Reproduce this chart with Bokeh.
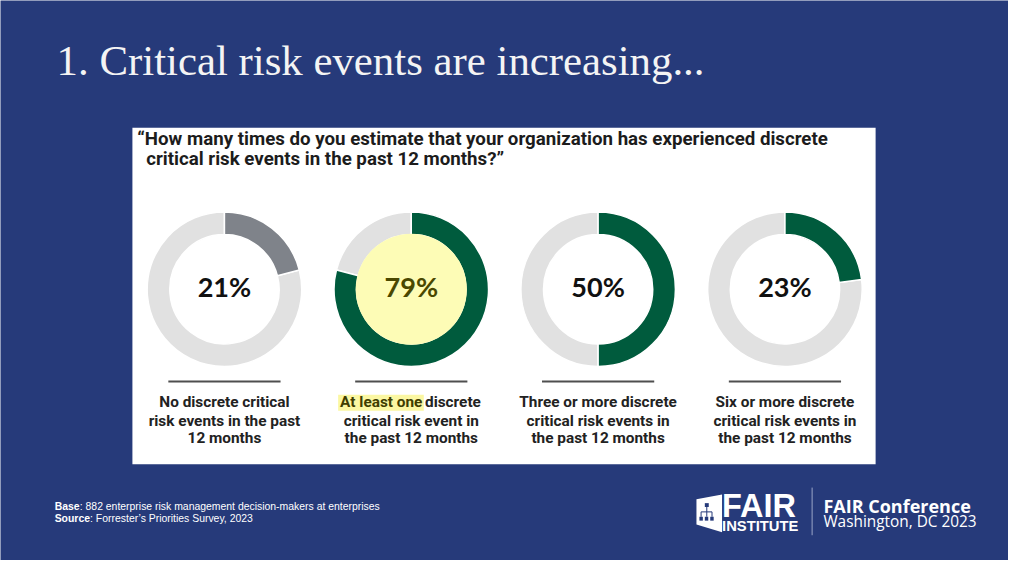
import math
from bokeh.plotting import figure
from bokeh.models import Range1d, ColumnDataSource
from bokeh.core.properties import value
from bokeh.embed import file_html
from bokeh.resources import INLINE

# ---------------- data ----------------
title_text = "1. Critical risk events are increasing..."
question_lines = [
    "\u201cHow many times do you estimate that your organization has experienced discrete",
    "critical risk events in the past 12 months?\u201d",
]
values = [21, 79, 50, 23]
segment_colors = ["#7f838a", "#005b3d", "#005b3d", "#005b3d"]
highlighted = [False, True, False, False]
captions = [
    ["No discrete critical", "risk events in the past", "12 months"],
    ["At least one discrete", "critical risk event in", "the past 12 months"],
    ["Three or more discrete", "critical risk events in", "the past 12 months"],
    ["Six or more discrete", "critical risk events in", "the past 12 months"],
]
highlight_phrase = "At least one"
footer_base = ("Base", ": 882 enterprise risk management decision-makers at enterprises")
footer_source = ("Source", ": Forrester\u2019s Priorities Survey, 2023")
logo_big = "FAIR"
logo_small = "INSTITUTE"
conf_lines = ["FAIR Conference", "Washington, DC 2023"]

# ---------------- layout helpers ----------------
W, H = 1008, 560
RW, RH = 1024, 576          # design coordinate space
S = W / RW                  # font scale
NAVY = "#263a7a"


def X(xr):
    return xr


def Y(yr):
    return RH - yr


def fs(px):
    return f"{px * S:.2f}px"


p = figure(width=W, height=H, x_range=Range1d(0, RW), y_range=Range1d(0, RH),
           output_backend="svg", toolbar_location=None, min_border=0)
p.axis.visible = False
p.grid.visible = False
p.outline_line_color = None
p.background_fill_color = NAVY
p.border_fill_color = NAVY

# title
p.text(x=[X(57)], y=[Y(62)], text=[title_text], text_font=value("Liberation Serif"),
       text_font_size=fs(43.5), text_color="#f4f4f4", text_align="left",
       text_baseline="middle")

# white panel
p.quad(left=[X(134)], right=[X(889)], bottom=[Y(477)], top=[Y(131)],
       fill_color="white", line_color=None)

# question
p.text(x=[X(139), X(148)], y=[Y(142), Y(163)], text=question_lines,
       text_font=value("Roboto"), text_font_size=fs(19), text_font_style="bold",
       text_color="#1c1c1c", text_align="left", text_baseline="middle")

# donuts
n = len(values)
cx = [X(227.5 + i * 189.8) for i in range(n)]
cy = [Y(297)] * n
R_OUT, R_IN = 78.5, 55.5
fracs = [v / 100.0 for v in values]
top = math.pi / 2
seg_start = [top - f * 2 * math.pi for f in fracs]
seg_end = [top] * n
rest_start = [top] * n
rest_end = [top - f * 2 * math.pi + 2 * math.pi for f in fracs]

src = ColumnDataSource(dict(x=cx, y=cy, s0=seg_start, s1=seg_end, r0=rest_start,
                            r1=rest_end, color=segment_colors))
p.annular_wedge(x="x", y="y", inner_radius=R_IN, outer_radius=R_OUT,
                start_angle="r0", end_angle="r1", direction="anticlock",
                fill_color="#e1e1e1", line_color="white", line_width=1.5, source=src)
p.annular_wedge(x="x", y="y", inner_radius=R_IN, outer_radius=R_OUT,
                start_angle="s0", end_angle="s1", direction="anticlock",
                fill_color="color", line_color="white", line_width=1.5, source=src)

hx = [cx[i] for i in range(n) if highlighted[i]]
hy = [cy[i] for i in range(n) if highlighted[i]]
p.circle(x=hx, y=hy, radius=R_IN + 1, fill_color="#fdfcb6", line_color=None)

pct_text = [f"{v}%" for v in values]
pct_color = ["#4a4800" if h else "#111111" for h in highlighted]
p.text(x=cx, y=[Y(294.5)] * n, text=pct_text, text_color=pct_color,
       text_font=value("Lato"), text_font_size=fs(27.5), text_font_style="bold",
       text_align="center", text_baseline="middle")

# underline rules
p.segment(x0=[c - 57 for c in cx], x1=[c + 57 for c in cx], y0=[Y(392)] * n,
          y1=[Y(392)] * n, line_color="#4f4f4f", line_width=2)

# captions
line_y = [Y(413), Y(432), Y(450.5)]
for i, lines in enumerate(captions):
    for j, line in enumerate(lines):
        if highlighted[i] and line.startswith(highlight_phrase):
            rest = line[len(highlight_phrase):].strip()
            p.quad(left=[X(343)], right=[X(430)], bottom=[Y(422)], top=[Y(405.5)],
                   fill_color="#fbf7a2", line_color=None)
            p.text(x=[X(345)], y=[line_y[j]], text=[highlight_phrase],
                   text_font=value("Roboto"), text_font_size=fs(15.6),
                   text_font_style="bold", text_color="#3f3d00",
                   text_align="left", text_baseline="middle")
            p.text(x=[X(488)], y=[line_y[j]], text=[rest],
                   text_font=value("Roboto"), text_font_size=fs(15.6),
                   text_font_style="bold", text_color="#222222",
                   text_align="right", text_baseline="middle")
        else:
            p.text(x=[cx[i]], y=[line_y[j]], text=[line],
                   text_font=value("Roboto"), text_font_size=fs(15.6),
                   text_font_style="bold", text_color="#222222",
                   text_align="center", text_baseline="middle")

# footer
p.text(x=[X(55), X(55)], y=[Y(520), Y(533)], text=[footer_base[0], footer_source[0]],
       text_font=value("Liberation Sans"), text_font_size=fs(10.6), text_font_style="bold",
       text_color="white", text_align="left", text_baseline="middle")
p.text(x=[X(55 + 25.5), X(55 + 36)], y=[Y(520), Y(533)],
       text=[footer_base[1], footer_source[1]],
       text_font=value("Liberation Sans"), text_font_size=fs(10.6),
       text_color="white", text_align="left", text_baseline="middle")

# logo icon
p.patch(x=[X(707), X(733), X(733), X(707)], y=[Y(513), Y(508), Y(547), Y(539)],
        fill_color="white", line_color=None)
p.quad(left=[X(715.5), X(710), X(715.5), X(721)],
       right=[X(719.5), X(713.5), X(719), X(724.5)],
       bottom=[Y(521), Y(535), Y(535), Y(535)], top=[Y(517), Y(531), Y(531), Y(531)],
       fill_color=NAVY, line_color=None)
p.segment(x0=[X(717.5), X(711.7)], x1=[X(717.5), X(722.8)],
          y0=[Y(521), Y(526)], y1=[Y(531), Y(526)], line_color=NAVY, line_width=1)
p.segment(x0=[X(711.7), X(722.8)], x1=[X(711.7), X(722.8)],
          y0=[Y(526), Y(526)], y1=[Y(531), Y(531)], line_color=NAVY, line_width=1)

p.text(x=[X(733)], y=[Y(520)], text=[logo_big], text_font=value("Liberation Sans"),
       text_font_size=fs(33), text_font_style="bold", text_color="white",
       text_align="left", text_baseline="middle")
p.text(x=[X(733)], y=[Y(540)], text=[logo_small], text_font=value("Liberation Sans"),
       text_font_size=fs(15), text_font_style="bold", text_color="white",
       text_align="left", text_baseline="middle")

p.segment(x0=[X(824.5)], x1=[X(824.5)], y0=[Y(501)], y1=[Y(550)],
          line_color="#9aa5c8", line_width=1)

p.text(x=[X(836)], y=[Y(520)], text=[conf_lines[0]], text_font=value("Open Sans"),
       text_font_size=fs(18.3), text_font_style="bold", text_color="white",
       text_align="left", text_baseline="middle")
p.text(x=[X(836)], y=[Y(536)], text=[conf_lines[1]], text_font=value("Open Sans"),
       text_font_size=fs(15.6), text_color="white",
       text_align="left", text_baseline="middle")

open("out.html", "w").write(file_html(p, INLINE))
